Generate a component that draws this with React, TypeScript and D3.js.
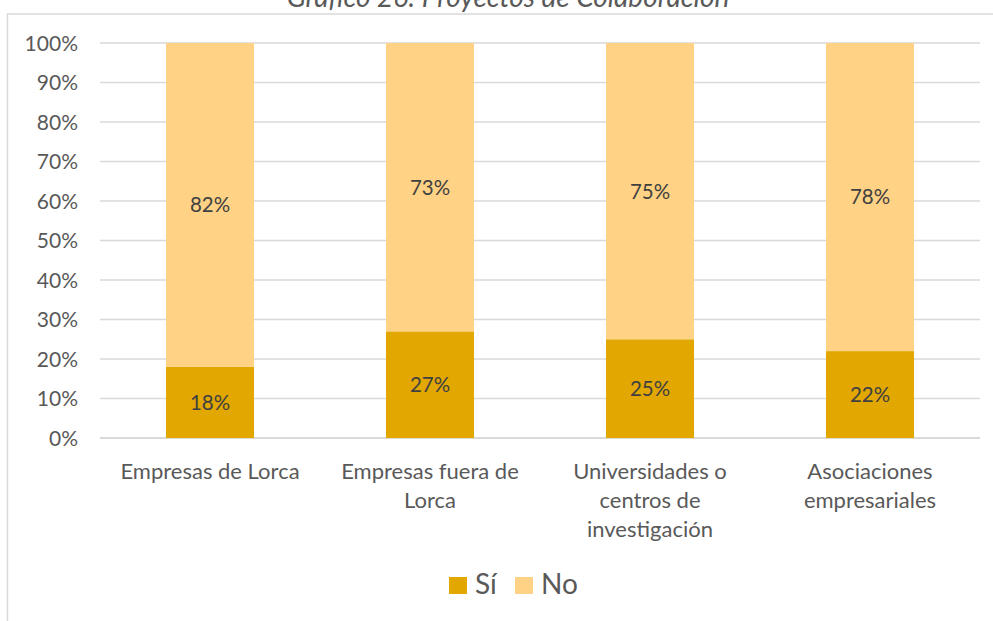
import React from "react";
import * as d3 from "d3";

const categories: string[][] = [
  ["Empresas de Lorca"],
  ["Empresas fuera de", "Lorca"],
  ["Universidades o", "centros de", "investigación"],
  ["Asociaciones", "empresariales"],
];
const si = [18, 27, 25, 22];
const no = [82, 73, 75, 78];
const yTicks = [0, 10, 20, 30, 40, 50, 60, 70, 80, 90, 100];
const seriesNames = ["Sí", "No"];
const colors = ["#E2A700", "#FFD285"];
const title = "Gráfico 26: Proyectos de Colaboración";

export default function App() {
  const W = 993, H = 621;
  const left = 100, right = 980, top = 43, bottom = 438;
  const x = d3.scaleBand<number>().domain(d3.range(categories.length)).range([left, right]).paddingInner(0.6).paddingOuter(0.3);
  const y = d3.scaleLinear().domain([0, 100]).range([bottom, top]);
  const font = "Lato, 'Open Sans', sans-serif";
  const txt = "#595959";
  return (
    <svg width={W} height={H} style={{ position: "absolute", left: 0, top: 0, background: "#fff" }} fontFamily={font}>
      <rect x={7.5} y={14} width={1100} height={700} fill="#fff" stroke="#D9D9D9" strokeWidth={1.5} />
      <text x={508} y={7} textAnchor="middle" fontSize={28} fontStyle="italic" fill={txt}>{title}</text>
      {yTicks.map((t) => (
        <g key={t}>
          <line x1={left} x2={right} y1={y(t)} y2={y(t)} stroke="#D9D9D9" strokeWidth={t === 0 ? 2 : 1.3} />
          <text x={78} y={y(t)} dy="0.36em" textAnchor="end" fontSize={21} fill={txt}>{t}%</text>
        </g>
      ))}
      {categories.map((c, i) => {
        const bx = x(i)!;
        const bw = x.bandwidth();
        return (
          <g key={i}>
            <rect x={bx} y={y(si[i])} width={bw} height={y(0) - y(si[i])} fill={colors[0]} />
            <rect x={bx} y={y(si[i] + no[i])} width={bw} height={y(si[i]) - y(si[i] + no[i])} fill={colors[1]} />
            <text x={bx + bw / 2} y={y(si[i] / 2)} dy="0.36em" textAnchor="middle" fontSize={20.5} fill="#404040">{si[i]}%</text>
            <text x={bx + bw / 2} y={y(si[i] + no[i] / 2)} dy="0.36em" textAnchor="middle" fontSize={20.5} fill="#404040">{no[i]}%</text>
            {c.map((line, j) => (
              <text key={j} x={bx + bw / 2} y={479 + j * 29} textAnchor="middle" fontSize={22} fill={txt}>{line}</text>
            ))}
          </g>
        );
      })}
      {seriesNames.map((s, i) => {
        const lx = [449, 515][i];
        return (
          <g key={s}>
            <rect x={lx} y={577} width={18} height={17} fill={colors[i]} />
            <text x={lx + 26} y={594} fontSize={28} fill={txt}>{s}</text>
          </g>
        );
      })}
    </svg>
  );
}
